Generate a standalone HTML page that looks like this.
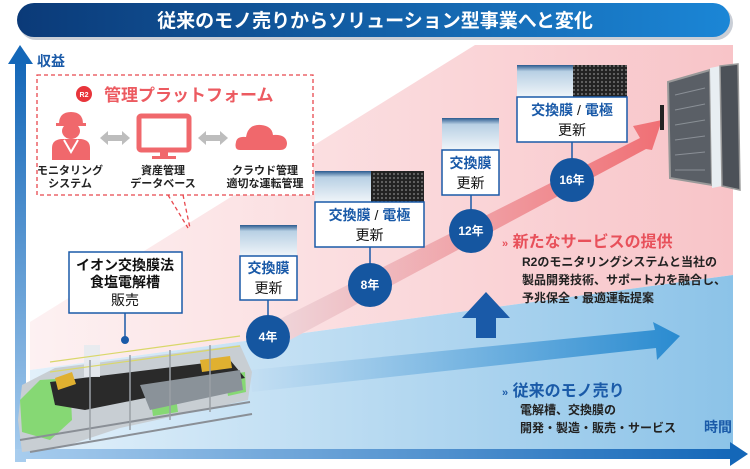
<!DOCTYPE html>
<html><head><meta charset="utf-8"><style>
html,body{margin:0;padding:0;background:#fff;}
svg{display:block;font-family:"Liberation Sans","Noto Sans CJK JP",sans-serif;}
.b{font-weight:bold;}
</style></head><body>
<svg width="750" height="469" viewBox="0 0 750 469" xmlns="http://www.w3.org/2000/svg">
<defs>
<linearGradient id="tb" x1="0" x2="1"><stop offset="0" stop-color="#0b3a78"/><stop offset="1" stop-color="#1b86d6"/></linearGradient>
<linearGradient id="pk" x1="0" x2="1"><stop offset="0" stop-color="#fdf1f2"/><stop offset="1" stop-color="#f8c4c8"/></linearGradient>
<linearGradient id="bl" x1="0" x2="1"><stop offset="0" stop-color="#e2f0fa"/><stop offset="1" stop-color="#8cc3e8"/></linearGradient>
<linearGradient id="ax" x1="0" y1="1" x2="0" y2="0"><stop offset="0" stop-color="#a8cdee"/><stop offset="1" stop-color="#1467b8"/></linearGradient>
<linearGradient id="axh" x1="0" x2="1"><stop offset="0" stop-color="#a8cdee"/><stop offset="1" stop-color="#1467b8"/></linearGradient>
<linearGradient id="ra" x1="0" x2="1"><stop offset="0" stop-color="#efd9de"/><stop offset="1" stop-color="#f06f74"/></linearGradient>
<linearGradient id="ba" x1="0" x2="1"><stop offset="0" stop-color="#c4dff3"/><stop offset="1" stop-color="#2a8bd0"/></linearGradient>
<linearGradient id="mem" x1="0" y1="0" x2="0" y2="1"><stop offset="0" stop-color="#2a5a8e"/><stop offset="0.2" stop-color="#b8d0e4"/><stop offset="1" stop-color="#f0f5f9"/></linearGradient>
<pattern id="mesh" width="4" height="4" patternUnits="userSpaceOnUse"><rect width="4" height="4" fill="#222"/><circle cx="2" cy="2" r="1.1" fill="#666"/></pattern>
</defs>
<rect x="27" y="45" width="706" height="415" fill="#fff"/>
<polygon points="30,322 475,45 733,45 733,275 30,370" fill="url(#pk)"/>
<polygon points="30,370 733,275 733,458 30,458" fill="url(#bl)"/>
<rect x="19" y="6" width="714" height="34" rx="17" fill="#c9ced6"/>
<rect x="17" y="3" width="713" height="34" rx="17" fill="url(#tb)"/>
<text x="375" y="27" text-anchor="middle" fill="#fff" font-size="19" class="b">従来のモノ売りからソリューション型事業へと変化</text>
<rect x="15" y="62" width="11" height="400" fill="url(#ax)"/>
<polygon points="8,64 20,45 33,64" fill="#1467b8"/>
<text x="37" y="66" fill="#1a5aa8" font-size="14" class="b">収益</text>
<rect x="15" y="449" width="718" height="10" fill="url(#axh)"/>
<polygon points="730,442 748,454 730,466" fill="#1467b8"/>
<text x="704" y="432" fill="#1a5aa8" font-size="14" class="b">時間</text>
<polygon points="250,370 655,330 653,322 680,336 657,360 656,348 252,392" fill="url(#ba)"/>
<polygon points="262,328 640,138 633,126 662,120 652,150 646,149 275,348" fill="url(#ra)"/>
<polygon points="486,292 510,318 496,318 496,338 476,338 476,318 462,318" fill="#1a5aa8"/>
<rect x="37" y="75" width="276" height="120" fill="#fff" stroke="#e8484e" stroke-width="1.3" stroke-dasharray="4,3"/>
<path d="M168,195 L188,228 M183,195 L190,228" stroke="#e8484e" stroke-width="1.3" stroke-dasharray="4,3" fill="none"/>
<circle cx="84" cy="94" r="8" fill="#e8353b"/>
<text x="84" y="97" text-anchor="middle" fill="#fff" font-size="7" class="b">R2</text>
<text x="104" y="101" fill="#ec5a60" font-size="17" class="b">管理プラットフォーム</text>
<g fill="#f0686c">
<path d="M59,124 Q59,112 71,112 Q83,112 83,124 Z"/>
<rect x="56" y="123" width="30" height="3"/>
<ellipse cx="71" cy="131" rx="9" ry="8"/>
<path d="M52,160 L52,148 Q52,140 61,139 L81,139 Q90,140 90,148 L90,160 Z"/>
</g>
<path d="M64,140 L71,152 L78,140" stroke="#fff" stroke-width="2" fill="none"/>
<polygon points="100,138 108,131 108,135 122,135 122,131 130,138 122,145 122,141 108,141 108,145" fill="#bdbdbd"/>
<polygon points="198,138 206,131 206,135 220,135 220,131 228,138 220,145 220,141 206,141 206,145" fill="#bdbdbd"/>
<rect x="139" y="116" width="50" height="34" rx="2" fill="none" stroke="#f0686c" stroke-width="5"/>
<rect x="160" y="152" width="8" height="5" fill="#f0686c"/>
<rect x="152" y="156" width="24" height="3" fill="#f0686c"/>
<path d="M240,150 Q234,150 236,142 Q237,136 246,137 Q248,124 261,125 Q272,126 273,135 Q286,134 287,143 Q287,150 280,150 Z" fill="#f0686c"/>
<g font-size="11" class="b" fill="#222" text-anchor="middle">
<text x="70" y="174">モニタリング</text><text x="70" y="187">システム</text>
<text x="163" y="174">資産管理</text><text x="163" y="187">データベース</text>
<text x="265" y="174">クラウド管理</text><text x="265" y="187">適切な運転管理</text>
</g>
<rect x="69" y="252" width="113" height="61" fill="#fff" stroke="#1a5aa8" stroke-width="1.5"/>
<g font-size="14" text-anchor="middle" fill="#111">
<text x="125" y="270" class="b">イオン交換膜法</text>
<text x="125" y="287" class="b">食塩電解槽</text>
<text x="125" y="305">販売</text>
</g>
<line x1="125" y1="313" x2="125" y2="340" stroke="#1a5aa8" stroke-width="1.5"/>
<circle cx="125" cy="340" r="4" fill="#1a5aa8"/>
<!-- electrolyzer -->
<g>
<polygon points="18,420 22,385 55,368 240,345 252,372 248,400 120,428 60,448 22,452" fill="#c8ced3"/>
<polygon points="20,400 40,380 70,378 72,420 50,440 22,432" fill="#86d874"/>
<polygon points="150,395 175,390 178,412 153,416" fill="#86d874"/>
<polygon points="225,375 245,372 246,392 228,396" fill="#86d874"/>
<polygon points="50,382 230,360 245,378 85,410 55,405" fill="#2a2a2a"/>
<polygon points="140,385 240,370 243,390 150,410" fill="#8a9299"/>
<polygon points="200,360 230,356 232,368 202,372" fill="#e0b030"/>
<polygon points="55,378 72,372 76,384 58,390" fill="#e0b030"/>
<rect x="84" y="345" width="16" height="32" fill="#e6eaee" opacity="0.9"/>
<path d="M50,362 L240,336 M50,372 L240,346" stroke="#d9d76a" stroke-width="1.2"/>
<path d="M20,440 L250,402 M30,452 L252,414" stroke="#8a8f96" stroke-width="2" fill="none"/>
<path d="M90,360 L90,440 M130,355 L130,430 M170,350 L170,420 M210,345 L210,412" stroke="#9aa0a6" stroke-width="1.5"/>
</g>
<g>
<rect x="240" y="225" width="57" height="31" fill="url(#mem)"/>
<rect x="240" y="256" width="57" height="44" fill="#fff" stroke="#1a5aa8" stroke-width="1.5"/>
<text x="268.5" y="273" text-anchor="middle" font-size="14" class="b" fill="#1a5aa8">交換膜</text>
<text x="268.5" y="293" text-anchor="middle" font-size="14" fill="#111">更新</text>
<line x1="268" y1="300" x2="268" y2="320" stroke="#1a5aa8" stroke-width="1.5"/>
<rect x="315" y="171" width="56" height="31" fill="url(#mem)"/>
<rect x="371" y="171" width="53" height="31" fill="url(#mesh)"/>
<rect x="315" y="202" width="109" height="45" fill="#fff" stroke="#1a5aa8" stroke-width="1.5"/>
<text x="369.5" y="220" text-anchor="middle" font-size="14" class="b" fill="#1a5aa8">交換膜 <tspan fill="#111" font-weight="normal">/</tspan> 電極</text>
<text x="369.5" y="240" text-anchor="middle" font-size="14" fill="#111">更新</text>
<line x1="370" y1="247" x2="370" y2="266" stroke="#1a5aa8" stroke-width="1.5"/>
<rect x="442" y="118" width="57" height="32" fill="url(#mem)"/>
<rect x="442" y="150" width="57" height="45" fill="#fff" stroke="#1a5aa8" stroke-width="1.5"/>
<text x="470.5" y="168" text-anchor="middle" font-size="14" class="b" fill="#1a5aa8">交換膜</text>
<text x="470.5" y="188" text-anchor="middle" font-size="14" fill="#111">更新</text>
<line x1="471" y1="195" x2="471" y2="212" stroke="#1a5aa8" stroke-width="1.5"/>
<rect x="517" y="65" width="56" height="32" fill="url(#mem)"/>
<rect x="573" y="65" width="54" height="32" fill="url(#mesh)"/>
<rect x="517" y="97" width="110" height="45" fill="#fff" stroke="#1a5aa8" stroke-width="1.5"/>
<text x="572" y="115" text-anchor="middle" font-size="14" class="b" fill="#1a5aa8">交換膜 <tspan fill="#111" font-weight="normal">/</tspan> 電極</text>
<text x="572" y="135" text-anchor="middle" font-size="14" fill="#111">更新</text>
<line x1="572" y1="142" x2="572" y2="160" stroke="#1a5aa8" stroke-width="1.5"/>
</g>
<g fill="#1556a0">
<circle cx="268" cy="337" r="22"/><circle cx="370" cy="285" r="22"/><circle cx="471" cy="231" r="22"/><circle cx="572" cy="180" r="22"/>
</g>
<g fill="#fff" font-size="12" class="b" text-anchor="middle">
<text x="268" y="341">4年</text><text x="370" y="289">8年</text><text x="471" y="235">12年</text><text x="572" y="184">16年</text>
</g>
<g>
<polygon points="668,82 710,70 712,185 670,178" fill="#5a5f66" stroke="#999" stroke-width="2"/>
<polygon points="710,68 720,66 722,186 712,188" fill="#e8eef2"/>
<polygon points="720,66 738,64 740,190 722,186" fill="#4c5158" stroke="#999" stroke-width="1.5"/>
<path d="M675,95 L705,88 M675,110 L705,104 M675,125 L705,120 M675,140 L705,136 M675,155 L705,152 M675,170 L705,170" stroke="#8a8f96" stroke-width="1"/>
<rect x="660" y="105" width="4" height="25" fill="#222"/>
</g>
<text x="502" y="247" fill="#e8505a" font-size="16" class="b"><tspan font-size="11">»</tspan> 新たなサービスの提供</text>
<g font-size="12" class="b" fill="#222">
<text x="522" y="266">R2のモニタリングシステムと当社の</text>
<text x="522" y="284">製品開発技術、サポート力を融合し、</text>
<text x="522" y="302">予兆保全・最適運転提案</text>
</g>
<text x="502" y="396" fill="#1a5aa8" font-size="16" class="b"><tspan font-size="11">»</tspan> 従来のモノ売り</text>
<g font-size="12" fill="#222" class="b">
<text x="520" y="414">電解槽、交換膜の</text>
<text x="520" y="432">開発・製造・販売・サービス</text>
</g>
</svg>
</body></html>
